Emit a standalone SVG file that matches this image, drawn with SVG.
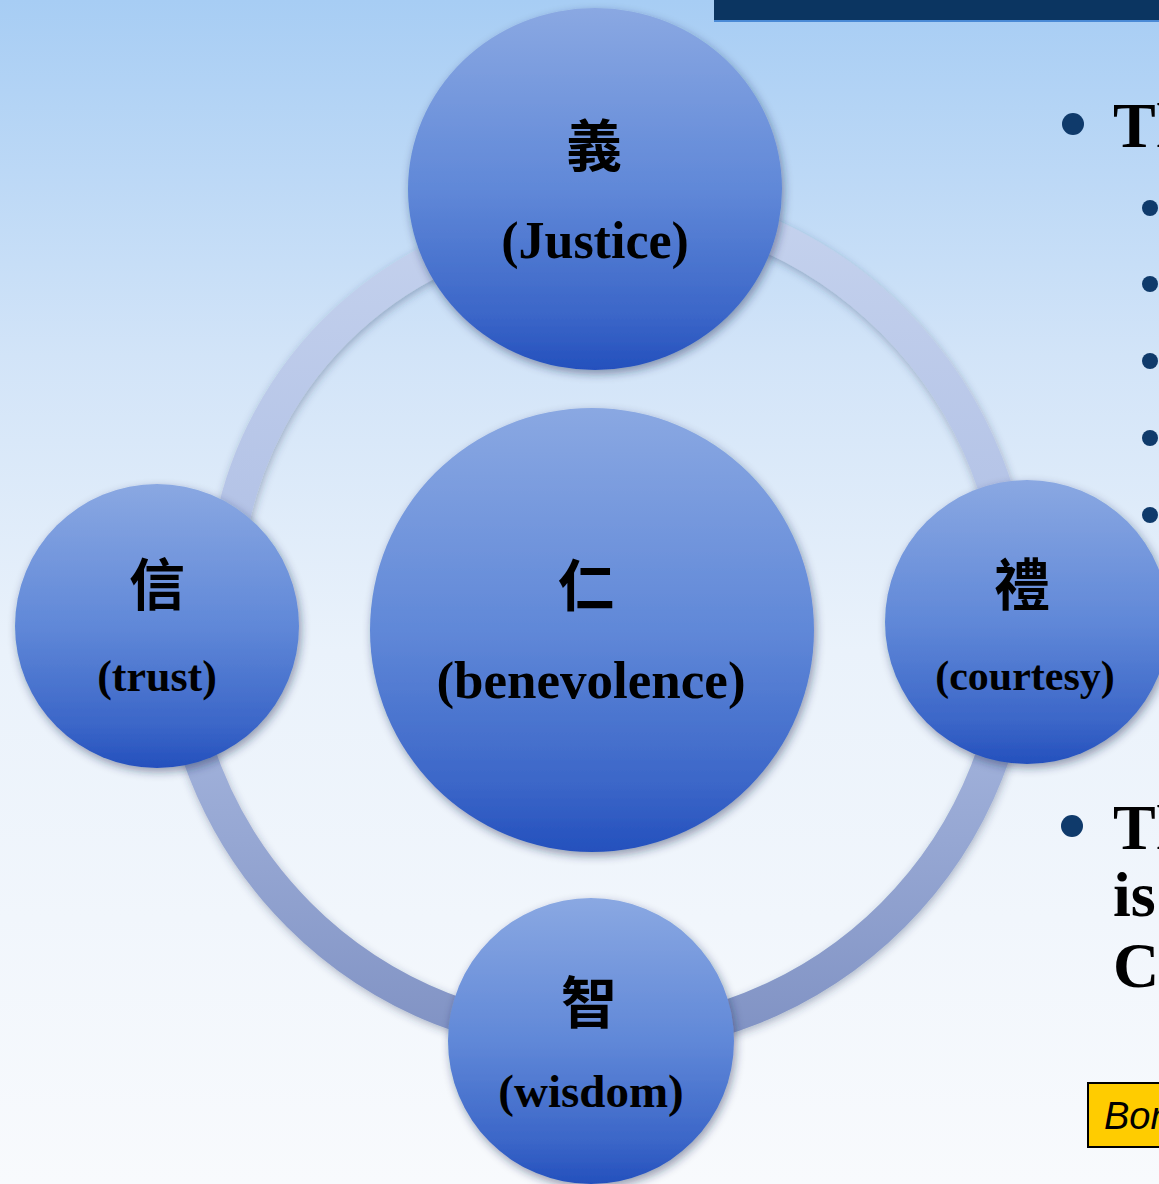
<svg xmlns="http://www.w3.org/2000/svg" width="1159" height="1184" viewBox="0 0 1159 1184">
<defs>
  <linearGradient id="bg" x1="0" y1="0" x2="0" y2="1184" gradientUnits="userSpaceOnUse">
    <stop offset="0" stop-color="#a7cdf4"/>
    <stop offset="0.3" stop-color="#d2e4f8"/>
    <stop offset="0.55" stop-color="#eaf2fb"/>
    <stop offset="1" stop-color="#f8fafd"/>
  </linearGradient>
  <linearGradient id="ringGrad" x1="0" y1="180" x2="0" y2="1060" gradientUnits="userSpaceOnUse">
    <stop offset="0" stop-color="#c6d3ee"/>
    <stop offset="0.5" stop-color="#aebee4"/>
    <stop offset="1" stop-color="#7e90c2"/>
  </linearGradient>
  <linearGradient id="nodeGrad" x1="0" y1="0" x2="0" y2="1">
    <stop offset="0" stop-color="#8aa8e2"/>
    <stop offset="0.5" stop-color="#6088d8"/>
    <stop offset="0.85" stop-color="#3b66c8"/>
    <stop offset="1" stop-color="#2450bd"/>
  </linearGradient>
  <filter id="shadow" x="-20%" y="-20%" width="140%" height="140%">
    <feGaussianBlur in="SourceAlpha" stdDeviation="5"/>
    <feOffset dx="2" dy="4" result="b"/>
    <feFlood flood-color="#1a2850" flood-opacity="0.45"/>
    <feComposite in2="b" operator="in"/>
    <feMerge><feMergeNode/><feMergeNode in="SourceGraphic"/></feMerge>
  </filter>
  <filter id="ringShadow" x="-20%" y="-20%" width="140%" height="140%">
    <feGaussianBlur in="SourceAlpha" stdDeviation="4"/>
    <feOffset dx="1" dy="3" result="b"/>
    <feFlood flood-color="#2a3a60" flood-opacity="0.35"/>
    <feComposite in2="b" operator="in"/>
    <feMerge><feMergeNode/><feMergeNode in="SourceGraphic"/></feMerge>
  </filter>
</defs>
<style>
  .node { fill: url(#nodeGrad); filter: url(#shadow); }
  .ring { fill: none; stroke: url(#ringGrad); stroke-width: 34; filter: url(#ringShadow); }
  .cjk { font-family: "Noto Sans CJK TC", "Noto Sans CJK SC", sans-serif; font-weight: 700; font-size: 56px; fill: #000; text-anchor: middle; }
  .lbl { font-family: "Liberation Serif", "Times New Roman", serif; font-weight: 700; fill: #000; text-anchor: middle; }
  .side { font-family: "Liberation Serif", "Times New Roman", serif; font-weight: 700; font-size: 64px; fill: #000; }
  .dot { fill: #0f3a6b; }
</style>

<rect x="0" y="0" width="1159" height="1184" fill="url(#bg)"/>

<!-- header bar -->
<rect x="714" y="0" width="445" height="21" fill="#0b3561"/>
<rect x="714" y="20" width="445" height="2" fill="#4a8ad6"/>

<!-- connectors (ring arcs) -->
<g id="connectors">
  <path class="ring" d="M 230 534 A 380 380 0 0 1 571 221"/>
  <path class="ring" d="M 596 198 A 420 420 0 0 1 1016 618"/>
  <path class="ring" d="M 1016 618 A 420 420 0 0 1 596 1038"/>
  <path class="ring" d="M 596 1038 A 420 420 0 0 1 176 618"/>
</g>

<g id="node-justice">
  <ellipse class="node" cx="595" cy="189" rx="187" ry="181"/>
  <text class="cjk" x="594" y="166">義</text>
  <text class="lbl" x="595" y="258" font-size="52">(Justice)</text>
</g>

<g id="node-trust">
  <circle class="node" cx="157" cy="626" r="142"/>
  <text class="cjk" x="157" y="605">信</text>
  <text class="lbl" x="157" y="691" font-size="44">(trust)</text>
</g>

<g id="node-benevolence">
  <circle class="node" cx="592" cy="630" r="222"/>
  <text class="cjk" x="586" y="606">仁</text>
  <text class="lbl" x="591" y="698" font-size="53">(benevolence)</text>
</g>

<g id="node-courtesy">
  <circle class="node" cx="1027" cy="622" r="142"/>
  <text class="cjk" x="1022" y="605">禮</text>
  <text class="lbl" x="1025" y="690" font-size="42">(courtesy)</text>
</g>

<g id="node-wisdom">
  <circle class="node" cx="591" cy="1041" r="143"/>
  <text class="cjk" x="589" y="1023">智</text>
  <text class="lbl" x="591" y="1107" font-size="47">(wisdom)</text>
</g>

<!-- right-side text (clipped by frame, as in the reference) -->
<g id="side-text">
  <circle class="dot" cx="1073" cy="124" r="11"/>
  <text class="side" x="1113" y="147">Th</text>
  <circle class="dot" cx="1150" cy="208" r="8"/>
  <circle class="dot" cx="1150" cy="284" r="8"/>
  <circle class="dot" cx="1150" cy="361" r="8"/>
  <circle class="dot" cx="1150" cy="438" r="8"/>
  <circle class="dot" cx="1150" cy="515" r="8"/>
  <circle class="dot" cx="1072" cy="826" r="11"/>
  <text class="side" x="1113" y="849">Th</text>
  <text class="side" x="1113" y="916">is</text>
  <text class="side" x="1113" y="987">Co</text>
</g>

<g id="note">
  <rect x="1088" y="1083" width="80" height="64" fill="#ffcc00" stroke="#000" stroke-width="2"/>
  <text x="1104" y="1129" font-family="Liberation Sans, Arial, sans-serif" font-style="italic" font-size="38" fill="#000">Bor</text>
</g>
</svg>
